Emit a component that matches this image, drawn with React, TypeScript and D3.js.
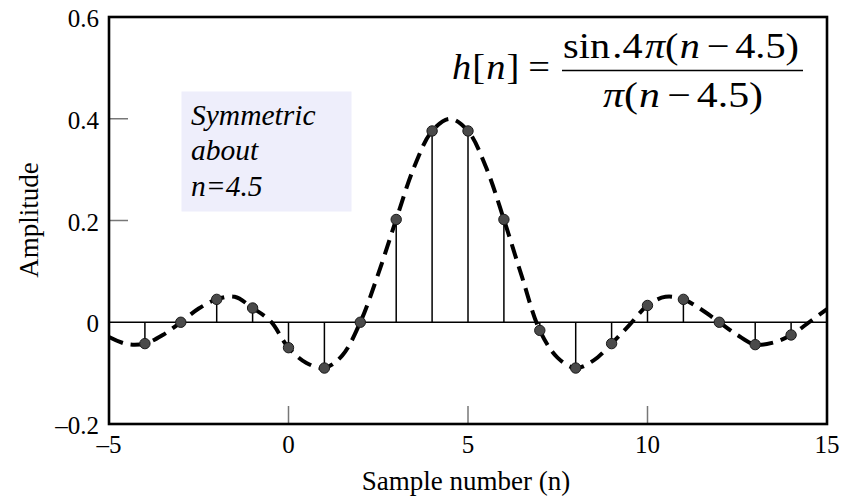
import React from 'react';
import { scaleLinear, line, curveCatmullRom } from 'd3';

// sample index and stem values
const sampleN = [-4, -3, -2, -1, 0, 1, 2, 3, 4, 5, 6, 7, 8, 9, 10, 11, 12, 13, 14];
const sampleH = [-0.042, 0, 0.045, 0.028, -0.05, -0.09, 0, 0.202, 0.376, 0.376, 0.202, -0.016, -0.09, -0.042, 0.033, 0.045, 0, -0.044, -0.025];

// dashed envelope, read at half steps
const curveN = [-5, -4.5, -4, -3.5, -3, -2.5, -2, -1.5, -1, -0.5, 0, 0.5, 1, 1.5, 2, 2.5, 3, 3.5, 4, 4.5, 5, 5.5, 6, 6.5, 7, 7.5, 8, 8.5, 9, 9.5, 10, 10.5, 11, 11.5, 12, 12.5, 13, 13.5, 14, 14.5, 15];
const curveH = [-0.029, -0.043, -0.042, -0.025, 0, 0.027, 0.045, 0.05, 0.028, 0.002, -0.05, -0.08, -0.09, -0.065, 0, 0.095, 0.202, 0.305, 0.376, 0.4, 0.376, 0.305, 0.202, 0.09, -0.016, -0.07, -0.09, -0.075, -0.042, -0.005, 0.033, 0.05, 0.045, 0.025, 0, -0.025, -0.044, -0.04, -0.025, 0, 0.026];

const xTicks = [-5, 0, 5, 10, 15];
const yTicks = [-0.2, 0, 0.2, 0.4, 0.6];

const W = 853;
const H = 498;
const margin = { top: 17, right: 26, bottom: 74, left: 109 };

function fmtY(v: number) {
  if (v === 0) return '0';
  return (v < 0 ? '\u2013' : '') + Math.abs(v).toFixed(1);
}
function fmtX(v: number) {
  return (v < 0 ? '\u2013' : '') + Math.abs(v);
}

export default function App() {
  const x = scaleLinear().domain([-5, 15]).range([margin.left, W - margin.right]);
  const y = scaleLinear().domain([-0.2, 0.6]).range([H - margin.bottom, margin.top]);

  const pts = curveN.map((n, i) => [n, curveH[i]] as [number, number]);
  const path = line<[number, number]>()
    .x(d => x(d[0]))
    .y(d => y(d[1]))
    .curve(curveCatmullRom.alpha(0.5))(pts) || '';

  const x0 = x.range()[0];
  const x1 = x.range()[1];
  const yb = y.range()[0];
  const yt = y.range()[1];
  const font = '"Liberation Serif", "DejaVu Serif", serif';

  return (
    <svg width={W} height={H} style={{ position: 'absolute', left: 0, top: 0, background: '#fff' }} fontFamily={font}>
      {/* inner ticks */}
      {yTicks.filter(t => t > -0.2 && t < 0.6 && t !== 0).map(t => (
        <line key={'yt' + t} x1={x0} x2={x0 + 19} y1={y(t)} y2={y(t)} stroke="#777" strokeWidth={1.5} />
      ))}
      {xTicks.filter(t => t > -5 && t < 15).map(t => (
        <line key={'xt' + t} x1={x(t)} x2={x(t)} y1={yb} y2={yb - 18} stroke="#777" strokeWidth={1.5} />
      ))}

      {/* zero line */}
      <line x1={x0} x2={x1} y1={y(0)} y2={y(0)} stroke="#000" strokeWidth={1.6} />

      {/* stems */}
      {sampleN.map((n, i) => (
        <line key={'s' + n} x1={x(n)} x2={x(n)} y1={y(0)} y2={y(sampleH[i])} stroke="#000" strokeWidth={1.5} />
      ))}

      {/* dashed curve */}
      <path d={path} fill="none" stroke="#000" strokeWidth={4} strokeDasharray="15 8" />

      {/* dots */}
      {sampleN.map((n, i) => (
        <circle key={'c' + n} cx={x(n)} cy={y(sampleH[i])} r={5.2} fill="#4a4a4a" stroke="#1a1a1a" strokeWidth={1} />
      ))}

      {/* frame */}
      <rect x={x0} y={yt} width={x1 - x0} height={yb - yt} fill="none" stroke="#000" strokeWidth={2.6} />

      {/* y tick labels */}
      {yTicks.map(t => (
        <text key={'yl' + t} x={x0 - 10} y={y(t) + 10} textAnchor="end" fontSize={25} fill="#000">{fmtY(t)}</text>
      ))}
      {/* x tick labels */}
      {xTicks.map(t => (
        <text key={'xl' + t} x={x(t)} y={yb + 29} textAnchor="middle" fontSize={25} fill="#000">{fmtX(t)}</text>
      ))}

      <text x={466} y={490} textAnchor="middle" fontSize={27} fill="#000">Sample number (n)</text>
      <text transform={`translate(38,220) rotate(-90)`} textAnchor="middle" fontSize={27} fill="#000">Amplitude</text>

      {/* annotation box */}
      <rect x={181.5} y={91.5} width={170} height={120} fill="#eeeefb" />
      <g fontStyle="italic" fontSize={29.5} fill="#000">
        <text x={191} y={124.5}>Symmetric</text>
        <text x={191} y={160}>about</text>
        <text x={191} y={195.5}>n=4.5</text>
      </g>

      {/* formula */}
      <g fill="#000" fontSize={35}>
        <text x={452} y={79} textLength={98} lengthAdjust="spacingAndGlyphs">
          <tspan fontStyle="italic">h</tspan>
          <tspan dx={1}>[</tspan>
          <tspan fontStyle="italic" dx={1}>n</tspan>
          <tspan dx={1}>]</tspan>
          <tspan dx={8}>=</tspan>
        </text>
        <text x={563} y={58} textLength={236} lengthAdjust="spacingAndGlyphs">
          <tspan>sin</tspan>
          <tspan dx={2}>.4</tspan>
          <tspan fontStyle="italic" dx={2}>π</tspan>
          <tspan>(</tspan>
          <tspan fontStyle="italic" dx={1}>n</tspan>
          <tspan dx={6}>−</tspan>
          <tspan dx={5}>4.5)</tspan>
        </text>
        <line x1={562} x2={803} y1={70.5} y2={70.5} stroke="#000" strokeWidth={1.6} />
        <text x={603} y={107} textLength={160} lengthAdjust="spacingAndGlyphs">
          <tspan fontStyle="italic">π</tspan>
          <tspan>(</tspan>
          <tspan fontStyle="italic" dx={1}>n</tspan>
          <tspan dx={6}>−</tspan>
          <tspan dx={5}>4.5)</tspan>
        </text>
      </g>
    </svg>
  );
}
